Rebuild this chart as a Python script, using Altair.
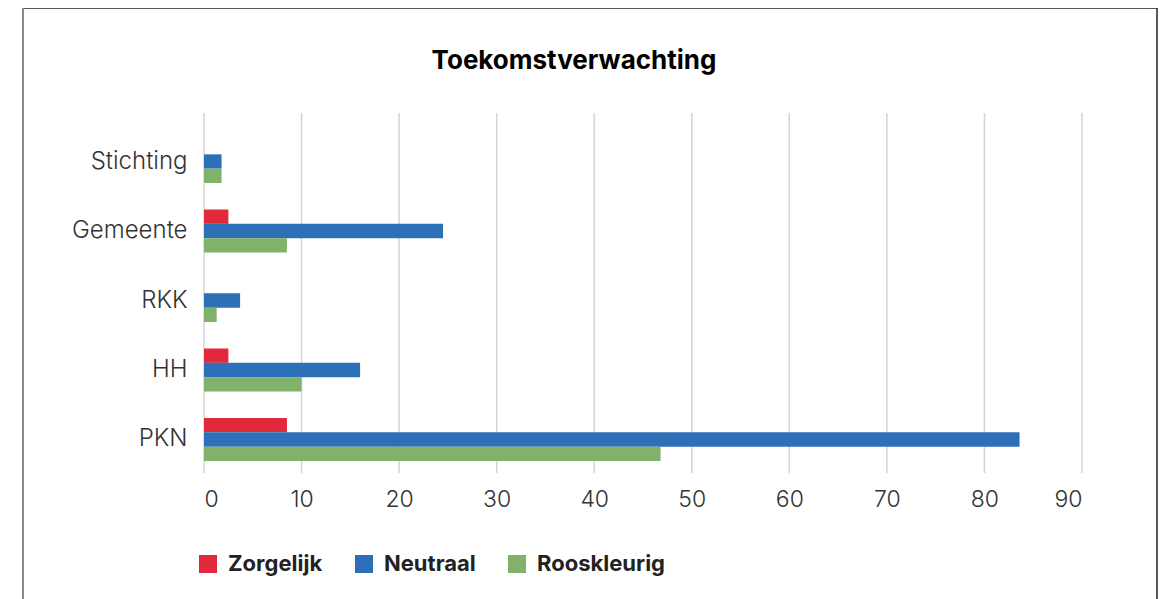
import altair as alt
import pandas as pd

categories = ["Stichting", "Gemeente", "RKK", "HH", "PKN"]
series = ["Zorgelijk", "Neutraal", "Rooskleurig"]
zorgelijk = [0, 2.5, 0, 2.5, 8.5]
neutraal = [1.8, 24.5, 3.7, 16, 83.6]
rooskleurig = [1.8, 8.5, 1.3, 10, 46.8]
colors = ["#E2283B", "#2E70B7", "#80B26B"]
x_ticks = [0, 10, 20, 30, 40, 50, 60, 70, 80, 90]
title_text = "Toekomstverwachting"

rows = []
for s, vals in zip(series, [zorgelijk, neutraal, rooskleurig]):
    for c, v in zip(categories, vals):
        rows.append({"cat": c, "serie": s, "waarde": v})
df = pd.DataFrame(rows)
grid_df = pd.DataFrame({"waarde": x_ticks})

W, H = 878, 360
FONT = "Inter"
xscale = alt.Scale(domain=[0, 90], nice=False)

grid = alt.Chart(grid_df).mark_rule(color="#d4d4d4", strokeWidth=1.5).encode(
    x=alt.X("waarde:Q", scale=xscale,
            axis=alt.Axis(title=None, values=x_ticks, ticks=False, domain=False, grid=False,
                          labelFontSize=23, labelFont=FONT, labelFontWeight=300,
                          labelColor="#333333", labelPadding=15)),
    y=alt.value(0), y2=alt.value(H))

bars = alt.Chart(df).mark_bar().encode(
    y=alt.Y("cat:N", sort=categories,
            scale=alt.Scale(domain=categories, range=[27, 348], paddingInner=0.381, paddingOuter=0),
            axis=alt.Axis(title=None, ticks=False, domain=False, labelFontSize=24,
                          labelFont=FONT, labelFontWeight=300, labelColor="#333333",
                          labelPadding=17)),
    x=alt.X("waarde:Q", scale=xscale),
    yOffset=alt.YOffset("serie:N", sort=series,
                        scale=alt.Scale(domain=series, paddingInner=0, paddingOuter=0)),
    color=alt.Color("serie:N", sort=series,
                    scale=alt.Scale(domain=series, range=colors),
                    legend=alt.Legend(title=None, orient="none", direction="horizontal",
                                      legendX=-7, legendY=440, symbolType="square",
                                      symbolSize=324, symbolStrokeWidth=0,
                                      labelFont=FONT, labelFontSize=22, labelFontWeight="bold",
                                      labelColor="#222222", labelOffset=9, columnPadding=30,
                                      padding=0)),
)

title_df = pd.DataFrame({"t": [title_text]})
title = alt.Chart(title_df).mark_text(font=FONT, fontSize=26, fontWeight="bold",
                                      color="#000000", align="center", baseline="middle").encode(
    text="t:N", x=alt.value(370), y=alt.value(-52))

frame_df = pd.DataFrame({"k": [0]})
top_line = alt.Chart(frame_df).mark_rule(color="#222222", strokeWidth=1.5).encode(
    x=alt.value(-181), x2=alt.value(953), y=alt.value(-105))
left_line = alt.Chart(frame_df).mark_rule(color="#8a8a8a", strokeWidth=2).encode(
    x=alt.value(-181), y=alt.value(-105), y2=alt.value(490))
right_line = alt.Chart(frame_df).mark_rule(color="#222222", strokeWidth=1.5).encode(
    x=alt.value(953), y=alt.value(-105), y2=alt.value(490))

chart = alt.layer(grid, bars, title, top_line, left_line, right_line).properties(
    width=W, height=H,
    padding={"left": 196, "top": 105, "right": 79, "bottom": 126},
    autosize=alt.AutoSizeParams(type="none"),
).configure_view(stroke=None)

chart.save("out.html", embed_options={"renderer": "svg", "actions": False})
